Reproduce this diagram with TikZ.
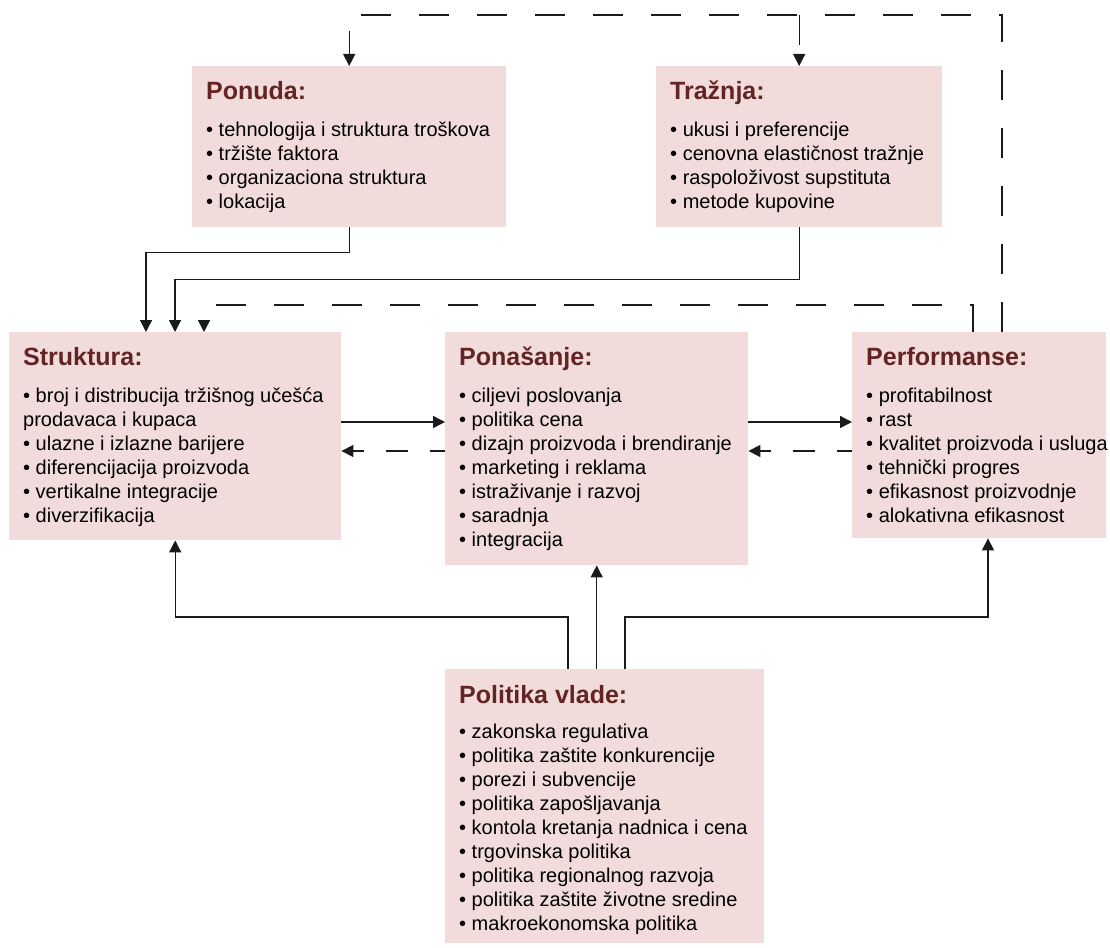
\documentclass[tikz,border=0pt]{standalone}
\usepackage{fontspec}
\setmainfont{Liberation Sans}
\usetikzlibrary{arrows.meta,calc}
\definecolor{boxfill}{HTML}{F2DCDB}
\definecolor{ttl}{HTML}{632523}
\definecolor{ln}{HTML}{1A1A1A}
\tikzset{
 box/.style={draw=none, fill=boxfill, rectangle, inner sep=0pt, anchor=north west},
 ttlnode/.style={anchor=base west, inner sep=0pt, font=\fontsize{25}{30}\selectfont\bfseries, text=ttl},
 lst/.style={anchor=north west, inner sep=0pt, align=left, font=\fontsize{20}{24}\selectfont},
 conn/.style={draw=ln, line width=1.4pt, -{Triangle[length=12pt,width=12pt]}},
 dsh/.style={dash pattern=on 30pt off 28pt},
 dshs/.style={dash pattern=on 22pt off 22pt, dash phase=7pt},
}
\begin{document}
\begin{tikzpicture}[x=1pt,y=-1pt]
\useasboundingbox[fill=white] (0,0) rectangle (1110,947);
% boxes
\node[box, minimum width=314pt, minimum height=161pt] (pon) at (192,66) {};
\node[box, minimum width=286pt, minimum height=161pt] (tra) at (656,66) {};
\node[box, minimum width=332pt, minimum height=208pt] (str) at (9,332) {};
\node[box, minimum width=303pt, minimum height=233pt] (pns) at (445,332) {};
\node[box, minimum width=254pt, minimum height=206pt] (per) at (852,332) {};
\node[box, minimum width=319pt, minimum height=274pt] (pol) at (445,669) {};
% texts
\node[ttlnode] (ponT) at ($(pon.north west)+(14,34)$) {Ponuda:};
\node[lst] (ponL) at ($(pon.north west)+(14,51)$) {\rule{0pt}{19pt}• tehnologija i struktura troškova\\• tržište faktora\\• organizaciona struktura\\• lokacija};
\node[ttlnode] (traT) at ($(tra.north west)+(14,34)$) {Tražnja:};
\node[lst] (traL) at ($(tra.north west)+(14,51)$) {\rule{0pt}{19pt}• ukusi i preferencije\\• cenovna elastičnost tražnje\\• raspoloživost supstituta\\• metode kupovine};
\node[ttlnode] (strT) at ($(str.north west)+(14,33)$) {Struktura:};
\node[lst] (strL) at ($(str.north west)+(14,51)$) {\rule{0pt}{19pt}• broj i distribucija tržišnog učešća\\prodavaca i kupaca\\• ulazne i izlazne barijere\\• diferencijacija proizvoda\\• vertikalne integracije\\• diverzifikacija};
\node[ttlnode] (pnsT) at ($(pns.north west)+(14,33)$) {Ponašanje:};
\node[lst] (pnsL) at ($(pns.north west)+(14,51)$) {\rule{0pt}{19pt}• ciljevi poslovanja\\• politika cena\\• dizajn proizvoda i brendiranje\\• marketing i reklama\\• istraživanje i razvoj\\• saradnja\\• integracija};
\node[ttlnode] (perT) at ($(per.north west)+(14,33)$) {Performanse:};
\node[lst] (perL) at ($(per.north west)+(14,51)$) {\rule{0pt}{19pt}• profitabilnost\\• rast\\• kvalitet proizvoda i usluga\\• tehnički progres\\• efikasnost proizvodnje\\• alokativna efikasnost};
\node[ttlnode] (polT) at ($(pol.north west)+(14,34)$) {Politika vlade:};
\node[lst] (polL) at ($(pol.north west)+(14,50)$) {\rule{0pt}{19pt}• zakonska regulativa\\• politika zaštite konkurencije\\• porezi i subvencije\\• politika zapošljavanja\\• kontola kretanja nadnica i cena\\• trgovinska politika\\• politika regionalnog razvoja\\• politika zaštite životne sredine\\• makroekonomska politika};
% top dashed feedback
\coordinate (topy) at (0,15);
\draw[conn,dsh] ($(per.north west)+(150,0)$) |- (topy -| pon.north) -- (pon.north);
\draw[conn,dsh] (topy -| tra.north) -- (tra.north);
% supply / demand -> structure
\draw[conn] (pon.south) -- ++(0,25) -| ($(str.north west)+(137,0)$);
\draw[conn] (tra.south) -- ++(0,52) -| ($(str.north west)+(166,0)$);
\draw[conn,dsh] ($(per.north west)+(121,0)$) -- ++(0,-27) -| ($(str.north west)+(195,0)$);
% horizontal links
\draw[conn] ($(str.north east)+(0,90)$) -- ($(pns.north west)+(0,90)$);
\draw[conn,dshs] ($(pns.north west)+(0,119)$) -- ($(str.north east)+(0,119)$);
\draw[conn] ($(pns.north east)+(0,90)$) -- ($(per.north west)+(0,90)$);
\draw[conn,dshs] ($(per.north west)+(0,119)$) -- ($(pns.north east)+(0,119)$);
% government policy
\draw[conn] ($(pol.north west)+(123,0)$) -- ++(0,-52) -| (str.south);
\draw[conn] (pol.north -| pns.south) -- (pns.south);
\draw[conn] ($(pol.north west)+(180,0)$) -- ++(0,-52) -| ($(per.south west)+(136,0)$);
\end{tikzpicture}
\end{document}
